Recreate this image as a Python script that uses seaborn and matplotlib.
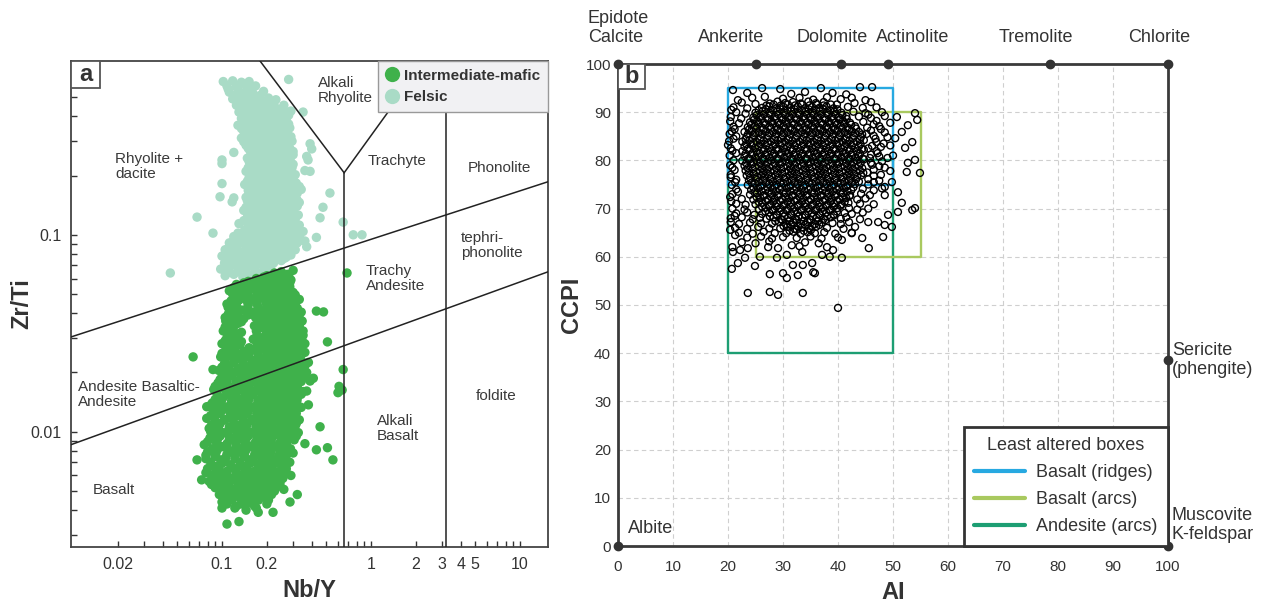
import matplotlib
matplotlib.use("Agg")
import numpy as np
import pandas as pd
import matplotlib.pyplot as plt
import seaborn as sns
from matplotlib.lines import Line2D
from matplotlib.patches import Rectangle
from matplotlib.ticker import FixedLocator, FixedFormatter, NullFormatter

# ---------------- data: panel a (Nb/Y, Zr/Ti) ----------------
felsic_points = [
    (0.102,0.60),(0.118,0.605),(0.135,0.595),(0.152,0.60),(0.28,0.615),
    (0.108,0.57),(0.125,0.565),(0.145,0.575),(0.168,0.57),
    (0.112,0.53),(0.13,0.535),(0.142,0.525),(0.16,0.53),(0.19,0.535),
    (0.118,0.49),(0.134,0.495),(0.15,0.485),(0.172,0.49),(0.205,0.495),(0.23,0.485),
    (0.125,0.455),(0.14,0.46),(0.158,0.45),(0.18,0.455),(0.2,0.46),(0.225,0.45),(0.26,0.455),
    (0.13,0.42),(0.148,0.425),(0.165,0.415),(0.185,0.42),(0.21,0.425),(0.235,0.415),(0.265,0.42),(0.29,0.425),
    (0.135,0.39),(0.152,0.385),(0.17,0.395),(0.19,0.39),(0.215,0.385),(0.24,0.395),(0.27,0.39),
    (0.128,0.36),(0.145,0.365),(0.162,0.355),(0.182,0.36),(0.205,0.365),(0.228,0.355),(0.255,0.36),(0.28,0.365),
    (0.14,0.335),(0.158,0.33),(0.176,0.34),(0.198,0.335),(0.22,0.33),(0.245,0.34),(0.27,0.335),
    (0.135,0.31),(0.15,0.315),(0.168,0.305),(0.188,0.31),(0.21,0.315),(0.235,0.305),(0.26,0.31),(0.29,0.315),
    (0.145,0.285),(0.162,0.29),(0.18,0.28),(0.2,0.285),(0.225,0.29),(0.25,0.28),(0.278,0.285),(0.39,0.29),
    (0.12,0.262),(0.155,0.265),(0.172,0.27),(0.192,0.26),(0.215,0.265),(0.24,0.27),(0.268,0.26),(0.3,0.265),
    (0.148,0.245),(0.165,0.25),(0.185,0.24),(0.205,0.245),(0.23,0.25),(0.255,0.24),(0.285,0.245),(0.37,0.25),
    (0.1,0.23),(0.158,0.228),(0.176,0.232),(0.196,0.224),(0.22,0.228),(0.245,0.232),(0.272,0.224),(0.3,0.228),
    (0.145,0.21),(0.165,0.214),(0.185,0.206),(0.205,0.21),(0.23,0.214),(0.26,0.206),(0.29,0.21),(0.36,0.212),
    (0.152,0.195),(0.17,0.198),(0.19,0.192),(0.212,0.195),(0.238,0.198),(0.265,0.192),(0.3,0.195),
    (0.1,0.182),(0.142,0.18),(0.16,0.183),(0.18,0.177),(0.2,0.18),(0.225,0.183),(0.25,0.177),(0.28,0.18),(0.315,0.183),
    (0.15,0.168),(0.168,0.171),(0.188,0.165),(0.21,0.168),(0.235,0.171),(0.262,0.165),(0.295,0.168),(0.34,0.17),
    (0.12,0.154),(0.145,0.155),(0.162,0.158),(0.18,0.152),(0.2,0.155),(0.222,0.158),(0.248,0.152),(0.275,0.155),(0.31,0.158),
    (0.152,0.143),(0.17,0.146),(0.19,0.14),(0.212,0.143),(0.238,0.146),(0.265,0.14),(0.3,0.143),(0.33,0.146),
    (0.14,0.133),(0.158,0.136),(0.176,0.13),(0.196,0.133),(0.22,0.136),(0.245,0.13),(0.272,0.133),(0.305,0.136),
    (0.148,0.123),(0.166,0.126),(0.185,0.12),(0.205,0.123),(0.23,0.126),(0.258,0.12),(0.288,0.123),(0.325,0.126),
    (0.13,0.114),(0.155,0.116),(0.172,0.112),(0.192,0.114),(0.215,0.116),(0.24,0.112),(0.268,0.114),(0.3,0.116),
    (0.142,0.106),(0.16,0.108),(0.18,0.104),(0.2,0.106),(0.225,0.108),(0.25,0.104),(0.28,0.106),(0.315,0.108),(0.35,0.104),
    (0.12,0.098),(0.135,0.1),(0.152,0.096),(0.17,0.098),(0.19,0.1),(0.212,0.096),(0.238,0.098),(0.265,0.1),(0.295,0.096),(0.33,0.098),
    (0.112,0.091),(0.128,0.093),(0.145,0.089),(0.162,0.091),(0.182,0.093),(0.205,0.089),(0.228,0.091),(0.255,0.093),(0.285,0.089),(0.32,0.091),(0.36,0.093),
    (0.105,0.084),(0.12,0.086),(0.138,0.082),(0.155,0.084),(0.175,0.086),(0.195,0.082),(0.22,0.084),(0.245,0.086),(0.275,0.082),(0.31,0.084),
    (0.1,0.078),(0.115,0.08),(0.13,0.076),(0.148,0.078),(0.166,0.08),(0.186,0.076),(0.21,0.078),(0.235,0.08),(0.262,0.076),(0.29,0.079),
    (0.104,0.072),(0.12,0.074),(0.136,0.07),(0.155,0.072),(0.175,0.074),(0.198,0.07),(0.222,0.072),(0.25,0.074),
    (0.098,0.067),(0.112,0.068),(0.128,0.065),(0.145,0.067),(0.165,0.068),(0.19,0.066),(0.212,0.068),
    (0.105,0.062),(0.12,0.063),(0.138,0.061),(0.158,0.062),
    (0.53,0.163),(0.476,0.138),(0.455,0.122),(0.40,0.273),(0.378,0.24),(0.39,0.21),(0.35,0.42),
    (0.65,0.116),(0.76,0.1),(0.87,0.1),(0.43,0.097),(0.37,0.087),
    (0.1,0.24),(0.097,0.156),(0.117,0.147),(0.068,0.123),(0.087,0.102),(0.045,0.064),
]
felsic_core_points = [
    (0.11,0.55),(0.128,0.552),(0.15,0.548),
    (0.122,0.51),(0.14,0.512),(0.16,0.508),(0.18,0.51),
    (0.13,0.47),(0.148,0.472),(0.168,0.468),(0.19,0.47),(0.215,0.472),
    (0.138,0.437),(0.156,0.44),(0.175,0.435),(0.195,0.437),(0.222,0.44),(0.25,0.435),
    (0.142,0.405),(0.16,0.407),(0.18,0.403),(0.2,0.405),(0.225,0.407),(0.252,0.403),(0.28,0.405),
    (0.138,0.375),(0.155,0.377),(0.175,0.373),(0.196,0.375),(0.218,0.377),(0.242,0.373),(0.268,0.375),
    (0.135,0.347),(0.152,0.349),(0.17,0.345),(0.19,0.347),(0.21,0.349),(0.235,0.345),(0.26,0.347),(0.285,0.349),
    (0.145,0.322),(0.162,0.324),(0.18,0.32),(0.2,0.322),(0.222,0.324),(0.248,0.32),(0.275,0.322),
    (0.14,0.297),(0.155,0.299),(0.172,0.295),(0.192,0.297),(0.215,0.299),(0.24,0.295),(0.265,0.297),(0.295,0.299),
    (0.15,0.275),(0.165,0.277),(0.183,0.273),(0.205,0.275),(0.228,0.277),(0.255,0.273),(0.285,0.275),
    (0.16,0.255),(0.178,0.257),(0.198,0.253),(0.22,0.255),(0.245,0.257),(0.272,0.253),(0.3,0.255),
    (0.152,0.236),(0.168,0.238),(0.188,0.234),(0.21,0.236),(0.235,0.238),(0.26,0.234),(0.288,0.236),
    (0.15,0.219),(0.17,0.221),(0.19,0.217),(0.215,0.219),(0.24,0.221),(0.265,0.217),(0.295,0.219),
    (0.158,0.202),(0.176,0.204),(0.198,0.2),(0.22,0.202),(0.248,0.204),(0.278,0.2),(0.31,0.202),
    (0.148,0.187),(0.165,0.189),(0.185,0.185),(0.206,0.187),(0.23,0.189),(0.258,0.185),(0.29,0.187),
    (0.155,0.174),(0.172,0.176),(0.192,0.172),(0.215,0.174),(0.24,0.176),(0.27,0.172),(0.3,0.174),(0.33,0.176),
    (0.152,0.161),(0.17,0.163),(0.19,0.159),(0.21,0.161),(0.235,0.163),(0.26,0.159),(0.29,0.161),(0.32,0.163),
    (0.148,0.149),(0.165,0.151),(0.185,0.147),(0.205,0.149),(0.228,0.151),(0.255,0.147),(0.285,0.149),(0.318,0.151),
    (0.145,0.138),(0.162,0.14),(0.182,0.136),(0.204,0.138),(0.228,0.14),(0.255,0.136),(0.285,0.138),(0.32,0.14),
    (0.155,0.128),(0.175,0.13),(0.195,0.126),(0.218,0.128),(0.243,0.13),(0.27,0.126),(0.3,0.128),
    (0.14,0.118),(0.158,0.12),(0.176,0.116),(0.198,0.118),(0.222,0.12),(0.248,0.116),(0.278,0.118),(0.31,0.12),
    (0.15,0.11),(0.17,0.112),(0.19,0.108),(0.212,0.11),(0.237,0.112),(0.265,0.108),(0.295,0.11),(0.33,0.112),
    (0.128,0.102),(0.145,0.104),(0.162,0.1),(0.18,0.102),(0.202,0.104),(0.225,0.1),(0.25,0.102),(0.28,0.104),(0.31,0.1),
    (0.12,0.094),(0.136,0.096),(0.153,0.092),(0.172,0.094),(0.193,0.096),(0.216,0.092),(0.242,0.094),(0.27,0.096),(0.3,0.092),(0.34,0.094),
    (0.112,0.087),(0.128,0.089),(0.146,0.085),(0.165,0.087),(0.185,0.089),(0.208,0.085),(0.232,0.087),(0.26,0.089),(0.29,0.085),
    (0.108,0.081),(0.124,0.083),(0.14,0.079),(0.158,0.081),(0.177,0.083),(0.198,0.079),(0.222,0.081),(0.25,0.083),(0.278,0.079),
    (0.108,0.075),(0.122,0.077),(0.14,0.073),(0.158,0.075),(0.178,0.077),(0.2,0.073),(0.225,0.075),(0.27,0.077),
    (0.105,0.0695),(0.12,0.071),(0.138,0.068),(0.155,0.0695),(0.178,0.071),(0.2,0.068),
    (0.11,0.0645),(0.128,0.066),(0.148,0.063),(0.168,0.0645),
]

mafic_points = [
    (0.225,0.064),(0.25,0.065),(0.275,0.063),(0.3,0.066),(0.69,0.064),
    (0.17,0.06),(0.19,0.061),(0.215,0.059),(0.24,0.06),(0.265,0.061),(0.29,0.059),
    (0.125,0.056),(0.14,0.057),(0.158,0.055),(0.18,0.056),(0.205,0.057),(0.23,0.055),(0.255,0.056),(0.285,0.057),
    (0.112,0.052),(0.128,0.053),(0.148,0.051),(0.17,0.052),(0.195,0.053),(0.22,0.051),(0.245,0.052),(0.27,0.053),(0.3,0.051),
    (0.12,0.048),(0.138,0.049),(0.16,0.047),(0.182,0.048),(0.208,0.049),(0.235,0.047),(0.26,0.048),(0.29,0.049),(0.33,0.047),
    (0.108,0.0445),(0.125,0.045),(0.15,0.044),(0.172,0.0445),(0.198,0.045),(0.225,0.044),(0.25,0.0445),(0.28,0.045),(0.31,0.044),
    (0.115,0.041),(0.135,0.0415),(0.162,0.0405),(0.188,0.041),(0.215,0.0415),(0.24,0.0405),(0.268,0.041),(0.3,0.0415),(0.34,0.0405),(0.43,0.041),(0.48,0.0406),
    (0.105,0.038),(0.122,0.0385),(0.14,0.0375),(0.168,0.038),(0.195,0.0385),(0.222,0.0375),(0.25,0.038),(0.28,0.0385),(0.32,0.0375),
    (0.11,0.035),(0.128,0.0355),(0.165,0.0345),(0.185,0.035),(0.208,0.0355),(0.235,0.0345),(0.262,0.035),(0.295,0.0355),(0.33,0.0345),
    (0.102,0.0325),(0.118,0.033),(0.135,0.032),(0.17,0.0325),(0.195,0.033),(0.22,0.032),(0.248,0.0325),(0.278,0.033),(0.31,0.032),(0.35,0.0325),
    (0.108,0.03),(0.125,0.0305),(0.162,0.0295),(0.185,0.03),(0.21,0.0305),(0.235,0.0295),(0.262,0.03),(0.295,0.0305),(0.335,0.0295),
    (0.1,0.028),(0.116,0.0284),(0.132,0.0276),(0.172,0.028),(0.198,0.0284),(0.222,0.0276),(0.25,0.028),(0.28,0.0284),(0.315,0.0276),(0.36,0.028),(0.51,0.0286),
    (0.106,0.026),(0.122,0.0264),(0.14,0.0256),(0.165,0.026),(0.188,0.0264),(0.212,0.0256),(0.238,0.026),(0.265,0.0264),(0.3,0.0256),(0.34,0.026),
    (0.064,0.024),(0.098,0.024),(0.112,0.0244),(0.128,0.0236),(0.148,0.024),(0.175,0.0244),(0.2,0.0236),(0.225,0.024),(0.252,0.0244),(0.285,0.0236),(0.32,0.024),
    (0.104,0.0222),(0.12,0.0225),(0.138,0.0219),(0.158,0.0222),(0.18,0.0225),(0.205,0.0219),(0.232,0.0222),(0.262,0.0225),(0.295,0.0219),(0.335,0.0222),(0.38,0.0225),
    (0.087,0.0207),(0.095,0.0205),(0.11,0.0208),(0.126,0.0202),(0.145,0.0205),(0.166,0.0208),(0.19,0.0202),(0.215,0.0205),(0.242,0.0208),(0.272,0.0202),(0.305,0.0205),(0.345,0.0208),(0.65,0.0207),
    (0.1,0.019),(0.116,0.0193),(0.133,0.0187),(0.153,0.019),(0.175,0.0193),(0.2,0.0187),(0.226,0.019),(0.255,0.0193),(0.285,0.0187),(0.32,0.019),(0.36,0.0193),(0.41,0.0187),
    (0.094,0.0177),(0.108,0.018),(0.124,0.0174),(0.142,0.0177),(0.163,0.018),(0.186,0.0174),(0.21,0.0177),(0.238,0.018),(0.268,0.0174),(0.3,0.0177),(0.34,0.018),(0.61,0.017),
    (0.088,0.0164),(0.1,0.0167),(0.115,0.0161),(0.132,0.0164),(0.152,0.0167),(0.174,0.0161),(0.198,0.0164),(0.224,0.0167),(0.252,0.0161),(0.284,0.0164),(0.32,0.0167),(0.37,0.0161),(0.64,0.0163),
    (0.094,0.0152),(0.108,0.0155),(0.124,0.0149),(0.142,0.0152),(0.162,0.0155),(0.185,0.0149),(0.21,0.0152),(0.238,0.0155),(0.268,0.0149),(0.3,0.0152),(0.34,0.0155),(0.6,0.0158),
    (0.086,0.014),(0.099,0.0143),(0.114,0.0137),(0.131,0.014),(0.15,0.0143),(0.172,0.0137),(0.196,0.014),(0.222,0.0143),(0.25,0.0137),(0.282,0.014),(0.318,0.0143),(0.38,0.0137),
    (0.079,0.0134),(0.092,0.013),(0.106,0.0133),(0.122,0.0127),(0.14,0.013),(0.16,0.0133),(0.183,0.0127),(0.208,0.013),(0.235,0.0133),(0.265,0.0127),(0.298,0.013),
    (0.084,0.0121),(0.097,0.0124),(0.112,0.0118),(0.129,0.0121),(0.148,0.0124),(0.17,0.0118),(0.194,0.0121),(0.22,0.0124),(0.248,0.0118),(0.28,0.0121),(0.315,0.0124),
    (0.09,0.0112),(0.104,0.0115),(0.12,0.0109),(0.138,0.0112),(0.158,0.0115),(0.18,0.0109),(0.205,0.0112),(0.232,0.0115),(0.262,0.0109),(0.295,0.0112),(0.33,0.0115),
    (0.082,0.0104),(0.095,0.0107),(0.11,0.0101),(0.127,0.0104),(0.146,0.0107),(0.167,0.0101),(0.19,0.0104),(0.216,0.0107),(0.244,0.0101),(0.275,0.0104),(0.31,0.0107),(0.455,0.0106),
    (0.087,0.0096),(0.101,0.0099),(0.117,0.0093),(0.135,0.0096),(0.155,0.0099),(0.177,0.0093),(0.201,0.0096),(0.228,0.0099),(0.258,0.0093),(0.29,0.0096),(0.325,0.0099),
    (0.08,0.0089),(0.093,0.0091),(0.108,0.0087),(0.125,0.0089),(0.144,0.0091),(0.165,0.0087),(0.188,0.0089),(0.214,0.0091),(0.242,0.0087),(0.272,0.0089),(0.305,0.0091),(0.36,0.0087),
    (0.086,0.0082),(0.1,0.0084),(0.116,0.008),(0.134,0.0082),(0.154,0.0084),(0.176,0.008),(0.2,0.0082),(0.227,0.0084),(0.256,0.008),(0.288,0.0082),(0.43,0.0081),(0.51,0.0083),
    (0.078,0.0076),(0.091,0.0078),(0.106,0.0074),(0.123,0.0076),(0.142,0.0078),(0.163,0.0074),(0.186,0.0076),(0.212,0.0078),(0.24,0.0074),(0.27,0.0076),(0.3,0.0078),
    (0.068,0.0072),(0.084,0.007),(0.098,0.0072),(0.114,0.0068),(0.132,0.007),(0.152,0.0072),(0.174,0.0068),(0.198,0.007),(0.225,0.0072),(0.254,0.0068),(0.285,0.007),(0.555,0.0072),
    (0.08,0.0065),(0.093,0.0067),(0.108,0.0063),(0.125,0.0065),(0.144,0.0067),(0.165,0.0063),(0.188,0.0065),(0.214,0.0067),(0.242,0.0063),(0.27,0.0065),
    (0.086,0.006),(0.1,0.0062),(0.116,0.0058),(0.134,0.006),(0.154,0.0062),(0.176,0.0058),(0.2,0.006),(0.227,0.0062),(0.256,0.0058),(0.29,0.006),
    (0.073,0.0057),(0.082,0.0056),(0.095,0.0057),(0.11,0.0055),(0.127,0.0056),(0.146,0.0057),(0.167,0.0055),(0.19,0.0056),(0.216,0.0057),(0.245,0.0055),
    (0.09,0.0052),(0.104,0.0053),(0.12,0.0051),(0.138,0.0052),(0.158,0.0053),(0.18,0.0051),(0.205,0.0052),(0.232,0.0053),(0.26,0.0051),
    (0.096,0.0048),(0.11,0.0049),(0.127,0.0047),(0.146,0.0048),(0.167,0.0049),(0.19,0.0047),(0.215,0.0048),(0.32,0.0048),
    (0.1,0.0044),(0.116,0.0045),(0.134,0.0043),(0.154,0.0044),(0.176,0.0045),(0.2,0.0043),(0.286,0.0044),
    (0.1,0.0041),(0.122,0.0041),(0.145,0.004),(0.17,0.0041),
    (0.175,0.0039),(0.22,0.0039),(0.13,0.0035),(0.108,0.0034),
]
mafic_core_points = [
    (0.2,0.062),(0.228,0.0625),(0.255,0.0615),(0.28,0.062),
    (0.15,0.058),(0.17,0.0585),(0.192,0.0575),(0.218,0.058),(0.243,0.0585),(0.27,0.0575),
    (0.12,0.054),(0.137,0.0545),(0.158,0.0535),(0.182,0.054),(0.207,0.0545),(0.232,0.0535),(0.258,0.054),(0.285,0.0545),
    (0.118,0.05),(0.13,0.0505),(0.15,0.0495),(0.172,0.05),(0.196,0.0505),(0.222,0.0495),(0.247,0.05),(0.275,0.0505),(0.31,0.0495),
    (0.115,0.0462),(0.13,0.0466),(0.148,0.0458),(0.17,0.0462),(0.195,0.0466),(0.22,0.0458),(0.247,0.0462),(0.275,0.0466),(0.31,0.0458),
    (0.11,0.0428),(0.125,0.0432),(0.148,0.0424),(0.175,0.0428),(0.2,0.0432),(0.228,0.0424),(0.254,0.0428),(0.284,0.0432),(0.32,0.0424),
    (0.11,0.0395),(0.128,0.0398),(0.15,0.0392),(0.178,0.0395),(0.205,0.0398),(0.23,0.0392),(0.258,0.0395),(0.29,0.0398),(0.33,0.0392),
    (0.106,0.0365),(0.118,0.0368),(0.135,0.0362),(0.175,0.0365),(0.198,0.0368),(0.222,0.0362),(0.248,0.0365),(0.278,0.0368),(0.31,0.0362),(0.345,0.0365),
    (0.105,0.034),(0.12,0.0343),(0.178,0.0337),(0.2,0.034),(0.222,0.0343),(0.25,0.0337),(0.28,0.034),(0.315,0.0343),
    (0.113,0.0312),(0.13,0.0315),(0.172,0.0309),(0.198,0.0312),(0.222,0.0315),(0.25,0.0309),(0.28,0.0312),(0.315,0.0315),(0.35,0.0309),
    (0.105,0.029),(0.118,0.0293),(0.135,0.0287),(0.175,0.029),(0.198,0.0293),(0.222,0.0287),(0.248,0.029),(0.278,0.0293),(0.31,0.0287),(0.345,0.029),
    (0.108,0.027),(0.124,0.0273),(0.152,0.0267),(0.178,0.027),(0.2,0.0273),(0.225,0.0267),(0.25,0.027),(0.282,0.0273),(0.32,0.0267),
    (0.1,0.025),(0.115,0.0253),(0.13,0.0247),(0.152,0.025),(0.175,0.0253),(0.2,0.0247),(0.225,0.025),(0.25,0.0253),(0.282,0.0247),(0.32,0.025),(0.36,0.0253),
    (0.105,0.0231),(0.12,0.0234),(0.138,0.0228),(0.16,0.0231),(0.187,0.0234),(0.212,0.0228),(0.238,0.0231),(0.268,0.0234),(0.302,0.0228),(0.34,0.0231),
    (0.1,0.0213),(0.112,0.0216),(0.128,0.021),(0.148,0.0213),(0.17,0.0216),(0.192,0.021),(0.218,0.0213),(0.247,0.0216),(0.278,0.021),(0.315,0.0213),(0.36,0.0216),
    (0.102,0.0197),(0.118,0.02),(0.135,0.0194),(0.155,0.0197),(0.178,0.02),(0.202,0.0194),(0.228,0.0197),(0.257,0.02),(0.29,0.0194),(0.325,0.0197),(0.37,0.02),
    (0.097,0.0184),(0.108,0.0187),(0.124,0.0181),(0.143,0.0184),(0.164,0.0187),(0.187,0.0181),(0.212,0.0184),(0.24,0.0187),(0.27,0.0181),(0.305,0.0184),(0.345,0.0187),(0.39,0.0181),
    (0.09,0.017),(0.101,0.0172),(0.116,0.0168),(0.133,0.017),(0.152,0.0172),(0.174,0.0168),(0.198,0.017),(0.224,0.0172),(0.252,0.0168),(0.285,0.017),(0.32,0.0172),
    (0.092,0.0158),(0.107,0.016),(0.123,0.0156),(0.142,0.0158),(0.163,0.016),(0.186,0.0156),(0.211,0.0158),(0.238,0.016),(0.268,0.0156),(0.3,0.0158),(0.35,0.016),
    (0.09,0.0146),(0.101,0.0148),(0.116,0.0144),(0.133,0.0146),(0.152,0.0148),(0.174,0.0144),(0.198,0.0146),(0.224,0.0148),(0.252,0.0144),(0.285,0.0146),(0.32,0.0148),
    (0.082,0.0135),(0.093,0.0137),(0.107,0.0133),(0.123,0.0135),(0.141,0.0137),(0.161,0.0133),(0.184,0.0135),(0.209,0.0137),(0.236,0.0133),(0.266,0.0135),(0.3,0.0137),(0.34,0.0133),
    (0.088,0.0126),(0.1,0.0128),(0.114,0.0124),(0.131,0.0126),(0.15,0.0128),(0.171,0.0124),(0.195,0.0126),(0.221,0.0128),(0.25,0.0124),(0.282,0.0126),
    (0.079,0.0117),(0.09,0.0119),(0.104,0.0115),(0.12,0.0117),(0.138,0.0119),(0.159,0.0115),(0.182,0.0117),(0.207,0.0119),(0.234,0.0115),(0.264,0.0117),(0.3,0.0119),
    (0.085,0.0108),(0.097,0.011),(0.112,0.0106),(0.129,0.0108),(0.148,0.011),(0.169,0.0106),(0.192,0.0108),(0.218,0.011),(0.247,0.0106),(0.278,0.0108),(0.315,0.011),
    (0.084,0.01),(0.094,0.0102),(0.108,0.0098),(0.125,0.01),(0.144,0.0102),(0.165,0.0098),(0.188,0.01),(0.213,0.0102),(0.24,0.0098),(0.27,0.01),(0.305,0.0102),
    (0.083,0.0093),(0.097,0.0095),(0.112,0.0091),(0.13,0.0093),(0.15,0.0095),(0.171,0.0091),(0.195,0.0093),(0.221,0.0095),(0.25,0.0091),(0.28,0.0093),(0.315,0.0095),
    (0.076,0.0086),(0.092,0.0088),(0.107,0.0084),(0.124,0.0086),(0.143,0.0088),(0.164,0.0084),(0.187,0.0086),(0.212,0.0088),(0.24,0.0084),(0.27,0.0086),
    (0.08,0.0079),(0.093,0.0081),(0.108,0.0077),(0.125,0.0079),(0.145,0.0081),(0.166,0.0077),(0.19,0.0079),(0.215,0.0081),(0.243,0.0077),(0.275,0.0079),
    (0.078,0.0073),(0.09,0.0075),(0.105,0.0071),(0.122,0.0073),(0.141,0.0075),(0.162,0.0071),(0.185,0.0073),(0.21,0.0075),(0.238,0.0071),(0.268,0.0073),
    (0.085,0.0067),(0.1,0.0069),(0.116,0.0066),(0.134,0.0067),(0.154,0.0069),(0.176,0.0066),(0.2,0.0067),(0.227,0.0069),(0.256,0.0066),
    (0.078,0.0062),(0.092,0.0063),(0.107,0.0061),(0.124,0.0062),(0.143,0.0063),(0.164,0.0061),(0.187,0.0062),(0.212,0.0063),(0.24,0.0061),(0.27,0.0062),
    (0.09,0.0058),(0.102,0.0059),(0.118,0.0057),(0.136,0.0058),(0.156,0.0059),(0.178,0.0057),(0.202,0.0058),(0.23,0.0059),
    (0.085,0.0054),(0.097,0.0055),(0.112,0.0053),(0.129,0.0054),(0.148,0.0055),(0.169,0.0053),(0.192,0.0054),(0.218,0.0055),(0.245,0.0053),
    (0.1,0.005),(0.115,0.0051),(0.132,0.0049),(0.152,0.005),(0.174,0.0051),(0.198,0.0049),(0.225,0.005),
    (0.105,0.0046),(0.12,0.0047),(0.14,0.0045),(0.16,0.0046),(0.183,0.0047),(0.205,0.0045),
    (0.108,0.0043),(0.125,0.0042),(0.145,0.0043),(0.165,0.0042),
]

# classification boundaries of panel a (Nb/Y, Zr/Ti end points)
boundary_lines = [
    ([0.66, 0.66], [0.0026, 0.2065]),
    ([0.66, 0.18], [0.2065, 0.763]),
    ([0.66, 2.3], [0.2065, 0.763]),
    ([3.2, 3.2], [0.0026, 0.763]),
    ([0.0097, 15.4], [0.0303, 0.186]),
    ([0.0097, 15.4], [0.0086, 0.0649]),
]
field_names = ["Alkali\nRhyolite", "Rhyolite +\ndacite", "Trachyte", "Phonolite",
               "tephri-\nphonolite", "Trachy\nAndesite", "Andesite Basaltic-\nAndesite",
               "foldite", "Alkali\nBasalt", "Basalt"]
field_pos = [(0.518, 0.940), (0.092, 0.782), (0.621, 0.794), (0.832, 0.780),
             (0.818, 0.621), (0.618, 0.553), (0.015, 0.313), (0.849, 0.311),
             (0.642, 0.243), (0.046, 0.117)]
x_major = [0.02, 0.1, 0.2, 1, 2, 3, 4, 5, 10]
x_major_labels = ["0.02", "0.1", "0.2", "1", "2", "3", "4", "5", "10"]
y_major = [0.01, 0.1]
y_major_labels = ["0.01", "0.1"]

# ---------------- data: panel b (AI, CCPI) ----------------
alteration_points = [
    (20.9,94.6),(26.2,95.0),(29.5,94.8),(36.9,95.0),(44.0,95.2),(46.2,95.2),
    (23.5,94.0),(31.5,93.8),(34.0,94.2),(39.0,94.0),(41.5,93.7),
    (21.8,92.5),(24.4,93.0),(26.7,93.2),(30.0,92.8),(33.0,93.0),(35.5,92.6),(38.0,93.1),(40.5,92.7),(42.5,93.0),(45.0,92.5),
    (27.6,91.8),(29.0,92.2),(30.4,91.9),(31.8,92.1),(33.2,91.8),(34.6,92.2),(36.0,91.9),(37.4,92.1),
    (22.5,92.0),(25.0,91.7),(39.8,91.6),(43.0,91.9),(46.0,92.1),
    (26.2,90.9),(27.5,91.2),(28.8,90.8),(30.1,91.1),(31.4,90.9),(32.7,91.2),(34.0,90.8),(35.3,91.1),(36.6,90.9),(37.9,91.2),(39.2,90.8),
    (21.0,91.0),(23.5,90.8),(41.8,91.1),(44.5,90.9),(47.0,91.0),(20.6,90.5),
    (25.0,89.9),(26.3,90.2),(27.6,89.8),(28.9,90.1),(30.2,89.9),(31.5,90.2),(32.8,89.8),(34.1,90.1),(35.4,89.9),(36.7,90.2),(38.0,89.8),(39.3,90.1),(40.6,89.9),
    (21.5,90.0),(23.2,89.7),(42.8,90.1),(45.0,89.8),(48.0,90.0),(45.5,89.5),
    (24.6,88.9),(25.9,89.2),(27.2,88.8),(28.5,89.1),(29.8,88.9),(31.1,89.2),(32.4,88.8),(33.7,89.1),(35.0,88.9),(36.3,89.2),(37.6,88.8),(38.9,89.1),(40.2,88.9),(41.5,89.2),
    (20.5,89.0),(22.4,88.7),(43.8,89.1),(46.0,88.8),(48.5,89.2),(50.7,89.0),(54.0,89.8),
    (24.0,87.9),(25.3,88.2),(26.6,87.8),(27.9,88.1),(29.2,87.9),(30.5,88.2),(31.8,87.8),(33.1,88.1),(34.4,87.9),(35.7,88.2),(37.0,87.8),(38.3,88.1),(39.6,87.9),(40.9,88.2),(42.2,87.8),
    (20.4,88.1),(22.0,87.7),(44.6,88.0),(47.0,88.2),(49.5,87.8),(54.4,88.4),(46.5,87.5),
    (23.6,86.9),(24.9,87.2),(26.2,86.8),(27.5,87.1),(28.8,86.9),(30.1,87.2),(31.4,86.8),(32.7,87.1),(34.0,86.9),(35.3,87.2),(36.6,86.8),(37.9,87.1),(39.2,86.9),(40.5,87.2),(41.8,86.8),(43.1,87.1),
    (21.0,87.0),(45.3,86.8),(47.5,87.1),(52.7,87.3),(21.2,86.5),(47.8,86.5),
    (23.0,85.9),(24.3,86.2),(25.6,85.8),(26.9,86.1),(28.2,85.9),(29.5,86.2),(30.8,85.8),(32.1,86.1),(33.4,85.9),(34.7,86.2),(36.0,85.8),(37.3,86.1),(38.6,85.9),(39.9,86.2),(41.2,85.8),(42.5,86.1),(43.8,85.9),
    (20.7,86.0),(46.0,86.2),(48.5,85.8),(51.6,85.9),(20.3,85.5),(45.2,85.5),
    (23.4,84.9),(24.7,85.2),(26.0,84.8),(27.3,85.1),(28.6,84.9),(29.9,85.2),(31.2,84.8),(32.5,85.1),(33.8,84.9),(35.1,85.2),(36.4,84.8),(37.7,85.1),(39.0,84.9),(40.3,85.2),(41.6,84.8),(42.9,85.1),(44.2,84.9),
    (21.5,85.0),(46.5,85.1),(49.0,84.8),(21.0,84.5),(46.8,84.5),
    (22.6,83.9),(23.9,84.2),(25.2,83.8),(26.5,84.1),(27.8,83.9),(29.1,84.2),(30.4,83.8),(31.7,84.1),(33.0,83.9),(34.3,84.2),(35.6,83.8),(36.9,84.1),(38.2,83.9),(39.5,84.2),(40.8,83.8),(42.1,84.1),(43.4,83.9),(44.7,84.2),
    (20.2,84.0),(47.0,83.8),(50.4,84.6),(53.5,83.8),(48.3,83.5),
    (23.0,82.9),(24.3,83.2),(25.6,82.8),(26.9,83.1),(28.2,82.9),(29.5,83.2),(30.8,82.8),(32.1,83.1),(33.4,82.9),(34.7,83.2),(36.0,82.8),(37.3,83.1),(38.6,82.9),(39.9,83.2),(41.2,82.8),(42.5,83.1),(43.8,82.9),
    (20.0,83.2),(46.2,83.0),(47.8,82.8),(49.5,83.1),(20.5,82.5),(45.5,82.5),
    (22.6,81.9),(23.9,82.2),(25.2,81.8),(26.5,82.1),(27.8,81.9),(29.1,82.2),(30.4,81.8),(31.7,82.1),(33.0,81.9),(34.3,82.2),(35.6,81.8),(36.9,82.1),(38.2,81.9),(39.5,82.2),(40.8,81.8),(42.1,82.1),(43.4,81.9),(44.7,82.2),
    (20.8,82.0),(47.0,81.9),(52.2,82.6),(21.5,81.5),(47.2,81.5),
    (23.0,80.9),(24.3,81.2),(25.6,80.8),(26.9,81.1),(28.2,80.9),(29.5,81.2),(30.8,80.8),(32.1,81.1),(33.4,80.9),(34.7,81.2),(36.0,80.8),(37.3,81.1),(38.6,80.9),(39.9,81.2),(41.2,80.8),(42.5,81.1),(43.8,80.9),
    (20.3,81.0),(46.0,81.2),(47.5,80.8),(50.0,81.0),(45.8,80.5),(49.0,80.5),
    (22.6,79.9),(23.9,80.2),(25.2,79.8),(26.5,80.1),(27.8,79.9),(29.1,80.2),(30.4,79.8),(31.7,80.1),(33.0,79.9),(34.3,80.2),(35.6,79.8),(36.9,80.1),(38.2,79.9),(39.5,80.2),(40.8,79.8),(42.1,80.1),(43.4,79.9),(44.7,80.2),
    (21.0,80.0),(48.0,79.8),(54.0,80.1),(46.0,79.5),
    (23.0,78.9),(24.3,79.2),(25.6,78.8),(26.9,79.1),(28.2,78.9),(29.5,79.2),(30.8,78.8),(32.1,79.1),(33.4,78.9),(34.7,79.2),(36.0,78.8),(37.3,79.1),(38.6,78.9),(39.9,79.2),(41.2,78.8),(42.5,79.1),(43.8,78.9),
    (20.4,79.0),(46.2,79.1),(47.5,78.8),(52.7,79.5),(20.8,78.5),(48.5,78.5),
    (23.2,77.9),(24.5,78.2),(25.8,77.8),(27.1,78.1),(28.4,77.9),(29.7,78.2),(31.0,77.8),(32.3,78.1),(33.6,77.9),(34.9,78.2),(36.2,77.8),(37.5,78.1),(38.8,77.9),(40.1,78.2),(41.4,77.8),(42.7,78.1),(44.0,77.9),
    (21.2,78.0),(46.5,78.1),(49.5,77.8),(45.3,77.5),(47.8,77.0),
    (23.4,76.9),(24.7,77.2),(26.0,76.8),(27.3,77.1),(28.6,76.9),(29.9,77.2),(31.2,76.8),(32.5,77.1),(33.8,76.9),(35.1,77.2),(36.4,76.8),(37.7,77.1),(39.0,76.9),(40.3,77.2),(41.6,76.8),(42.9,77.1),(44.2,76.9),
    (20.5,77.0),(46.5,76.8),(52.5,77.6),(54.9,77.4),(20.5,76.5),
    (23.8,75.9),(25.1,76.2),(26.4,75.8),(27.7,76.1),(29.0,75.9),(30.3,76.2),(31.6,75.8),(32.9,76.1),(34.2,75.9),(35.5,76.2),(36.8,75.8),(38.1,76.1),(39.4,75.9),(40.7,76.2),(42.0,75.8),(43.3,76.1),
    (21.5,76.0),(45.5,76.1),(47.5,75.8),(21.3,75.5),(46.5,75.5),
    (23.6,74.9),(24.9,75.2),(26.2,74.8),(27.5,75.1),(28.8,74.9),(30.1,75.2),(31.4,74.8),(32.7,75.1),(34.0,74.9),(35.3,75.2),(36.6,74.8),(37.9,75.1),(39.2,74.9),(40.5,75.2),(41.8,74.8),(43.1,75.1),
    (20.7,74.9),(45.5,75.0),(49.8,75.5),(48.5,74.5),
    (24.2,73.9),(25.5,74.2),(26.8,73.8),(28.1,74.1),(29.4,73.9),(30.7,74.2),(32.0,73.8),(33.3,74.1),(34.6,73.9),(35.9,74.2),(37.2,73.8),(38.5,74.1),(39.8,73.9),(41.1,74.2),(42.4,73.8),
    (21.5,74.0),(44.5,74.1),(46.5,73.8),(48.0,74.2),(21.8,73.5),
    (24.0,72.9),(25.3,73.2),(26.6,72.8),(27.9,73.1),(29.2,72.9),(30.5,73.2),(31.8,72.8),(33.1,73.1),(34.4,72.9),(35.7,73.2),(37.0,72.8),(38.3,73.1),(39.6,72.9),(40.9,73.2),(42.2,72.8),
    (20.8,73.0),(44.2,73.1),(45.8,72.8),(50.9,73.4),
    (24.6,71.9),(25.9,72.2),(27.2,71.8),(28.5,72.1),(29.8,71.9),(31.1,72.2),(32.4,71.8),(33.7,72.1),(35.0,71.9),(36.3,72.2),(37.6,71.8),(38.9,72.1),(40.2,71.9),(41.5,72.2),
    (20.4,72.4),(22.5,72.0),(43.5,71.9),(45.0,72.1),(48.5,72.8),(20.6,71.5),
    (25.0,70.9),(26.3,71.2),(27.6,70.8),(28.9,71.1),(30.2,70.9),(31.5,71.2),(32.8,70.8),(34.1,71.1),(35.4,70.9),(36.7,71.2),(38.0,70.8),(39.3,71.1),(40.6,70.9),(41.9,71.2),
    (21.5,71.0),(23.2,70.8),(44.0,71.0),(46.5,70.9),(51.6,71.2),
    (25.6,69.9),(26.9,70.2),(28.2,69.8),(29.5,70.1),(30.8,69.9),(32.1,70.2),(33.4,69.8),(34.7,70.1),(36.0,69.9),(37.3,70.2),(38.6,69.8),(39.9,70.1),
    (20.8,70.0),(23.0,69.8),(42.0,70.1),(43.5,69.8),(45.5,70.0),(54.0,70.1),(53.5,69.7),
    (26.2,68.9),(27.5,69.2),(28.8,68.8),(30.1,69.1),(31.4,68.9),(32.7,69.2),(34.0,68.8),(35.3,69.1),(36.6,68.9),(37.9,69.2),(39.2,68.8),
    (21.5,69.0),(23.5,69.2),(24.8,68.7),(41.2,69.1),(42.5,68.9),(44.5,69.2),(50.9,69.3),(21.2,68.5),
    (27.0,67.9),(28.3,68.2),(29.6,67.8),(30.9,68.1),(32.2,67.9),(33.5,68.2),(34.8,67.8),(36.1,68.1),(37.4,67.9),(38.7,68.2),
    (20.5,68.0),(22.5,68.2),(24.5,67.8),(25.8,68.1),(40.5,67.9),(41.5,68.2),(44.0,67.8),(49.1,68.7),
    (28.0,66.9),(29.3,67.2),(30.6,66.8),(31.9,67.1),(33.2,66.9),(34.5,67.2),(35.8,66.8),(37.1,67.1),
    (20.5,67.2),(22.0,66.8),(24.0,67.1),(26.0,66.9),(39.0,67.0),(40.5,66.8),(42.0,67.2),(45.5,67.2),(47.3,67.2),
    (29.5,65.9),(30.8,66.2),(32.1,65.8),(33.4,66.1),(34.7,65.9),(36.0,66.2),
    (21.3,66.0),(23.5,65.8),(25.5,66.2),(27.5,65.9),(38.0,66.0),(41.0,65.8),(43.1,66.2),(48.5,66.6),(49.8,66.2),
    (30.6,64.9),(31.9,65.2),(33.2,64.8),(34.5,65.1),(35.8,64.9),
    (20.4,65.6),(22.0,65.0),(24.5,64.8),(26.5,65.2),(28.5,64.9),(37.5,65.1),(39.5,64.8),(42.5,65.0),
    (21.3,64.5),(23.5,64.0),(26.0,64.2),(28.0,63.8),(30.0,64.1),(32.5,63.9),(35.0,64.2),(37.0,63.8),(40.0,64.0),(44.4,63.9),(48.2,64.1),
    (22.5,63.0),(25.0,62.8),(27.5,63.2),(31.6,62.4),(34.0,63.0),(36.5,62.8),(40.7,63.5),(42.5,64.9),
    (20.8,62.0),(23.6,61.8),(27.3,62.0),(29.1,61.8),(33.0,62.2),(38.0,62.0),(45.6,61.8),
    (20.9,61.0),(22.2,61.4),(33.5,61.0),(39.1,61.4),
    (23.1,59.8),(25.8,60.0),(28.9,59.8),(30.7,60.4),(37.1,60.4),(38.5,60.0),(40.7,59.8),
    (21.8,58.7),(24.9,58.1),(31.8,58.3),(33.6,58.3),(35.3,58.7),(20.7,57.5),(30.0,56.6),(35.5,56.8),
    (27.6,56.4),(32.7,56.2),(35.8,56.6),(30.7,55.6),
    (23.6,52.5),(27.6,52.7),(29.1,52.1),(33.6,52.5),(40.0,49.4),
]
alteration_core_points = [
    (27.0,91.4),(28.3,91.6),(29.6,91.4),(30.9,91.6),(32.2,91.4),(33.5,91.6),(34.8,91.4),(36.1,91.6),(37.4,91.4),(38.7,91.6),
    (25.6,90.4),(26.9,90.6),(28.2,90.4),(29.5,90.6),(30.8,90.4),(32.1,90.6),(33.4,90.4),(34.7,90.6),(36.0,90.4),(37.3,90.6),(38.6,90.4),(39.9,90.6),
    (25.2,89.4),(26.5,89.6),(27.8,89.4),(29.1,89.6),(30.4,89.4),(31.7,89.6),(33.0,89.4),(34.3,89.6),(35.6,89.4),(36.9,89.6),(38.2,89.4),(39.5,89.6),(40.8,89.4),
    (24.7,88.4),(26.0,88.6),(27.3,88.4),(28.6,88.6),(29.9,88.4),(31.2,88.6),(32.5,88.4),(33.8,88.6),(35.1,88.4),(36.4,88.6),(37.7,88.4),(39.0,88.6),(40.3,88.4),(41.6,88.6),
    (24.2,87.4),(25.5,87.6),(26.8,87.4),(28.1,87.6),(29.4,87.4),(30.7,87.6),(32.0,87.4),(33.3,87.6),(34.6,87.4),(35.9,87.6),(37.2,87.4),(38.5,87.6),(39.8,87.4),(41.1,87.6),(42.4,87.4),
    (23.8,86.4),(25.1,86.6),(26.4,86.4),(27.7,86.6),(29.0,86.4),(30.3,86.6),(31.6,86.4),(32.9,86.6),(34.2,86.4),(35.5,86.6),(36.8,86.4),(38.1,86.6),(39.4,86.4),(40.7,86.6),(42.0,86.4),(43.3,86.6),
    (23.6,85.4),(24.9,85.6),(26.2,85.4),(27.5,85.6),(28.8,85.4),(30.1,85.6),(31.4,85.4),(32.7,85.6),(34.0,85.4),(35.3,85.6),(36.6,85.4),(37.9,85.6),(39.2,85.4),(40.5,85.6),(41.8,85.4),(43.1,85.6),(44.4,85.4),
    (23.2,84.4),(24.5,84.6),(25.8,84.4),(27.1,84.6),(28.4,84.4),(29.7,84.6),(31.0,84.4),(32.3,84.6),(33.6,84.4),(34.9,84.6),(36.2,84.4),(37.5,84.6),(38.8,84.4),(40.1,84.6),(41.4,84.4),(42.7,84.6),(44.0,84.4),
    (23.3,83.4),(24.6,83.6),(25.9,83.4),(27.2,83.6),(28.5,83.4),(29.8,83.6),(31.1,83.4),(32.4,83.6),(33.7,83.4),(35.0,83.6),(36.3,83.4),(37.6,83.6),(38.9,83.4),(40.2,83.6),(41.5,83.4),(42.8,83.6),(44.1,83.4),
    (23.6,82.4),(24.9,82.6),(26.2,82.4),(27.5,82.6),(28.8,82.4),(30.1,82.6),(31.4,82.4),(32.7,82.6),(34.0,82.4),(35.3,82.6),(36.6,82.4),(37.9,82.6),(39.2,82.4),(40.5,82.6),(41.8,82.4),(43.1,82.6),(44.4,82.4),
    (23.2,81.4),(24.5,81.6),(25.8,81.4),(27.1,81.6),(28.4,81.4),(29.7,81.6),(31.0,81.4),(32.3,81.6),(33.6,81.4),(34.9,81.6),(36.2,81.4),(37.5,81.6),(38.8,81.4),(40.1,81.6),(41.4,81.4),(42.7,81.6),(44.0,81.4),
    (23.7,80.4),(25.0,80.6),(26.3,80.4),(27.6,80.6),(28.9,80.4),(30.2,80.6),(31.5,80.4),(32.8,80.6),(34.1,80.4),(35.4,80.6),(36.7,80.4),(38.0,80.6),(39.3,80.4),(40.6,80.6),(41.9,80.4),(43.2,80.6),(44.5,80.4),
    (23.3,79.4),(24.6,79.6),(25.9,79.4),(27.2,79.6),(28.5,79.4),(29.8,79.6),(31.1,79.4),(32.4,79.6),(33.7,79.4),(35.0,79.6),(36.3,79.4),(37.6,79.6),(38.9,79.4),(40.2,79.6),(41.5,79.4),(42.8,79.6),(44.1,79.4),
    (23.6,78.4),(24.9,78.6),(26.2,78.4),(27.5,78.6),(28.8,78.4),(30.1,78.6),(31.4,78.4),(32.7,78.6),(34.0,78.4),(35.3,78.6),(36.6,78.4),(37.9,78.6),(39.2,78.4),(40.5,78.6),(41.8,78.4),(43.1,78.6),(44.4,78.4),
    (23.8,77.4),(25.1,77.6),(26.4,77.4),(27.7,77.6),(29.0,77.4),(30.3,77.6),(31.6,77.4),(32.9,77.6),(34.2,77.4),(35.5,77.6),(36.8,77.4),(38.1,77.6),(39.4,77.4),(40.7,77.6),(42.0,77.4),(43.3,77.6),(44.6,77.4),
    (24.0,76.4),(25.3,76.6),(26.6,76.4),(27.9,76.6),(29.2,76.4),(30.5,76.6),(31.8,76.4),(33.1,76.6),(34.4,76.4),(35.7,76.6),(37.0,76.4),(38.3,76.6),(39.6,76.4),(40.9,76.6),(42.2,76.4),(43.5,76.6),
    (24.3,75.4),(25.6,75.6),(26.9,75.4),(28.2,75.6),(29.5,75.4),(30.8,75.6),(32.1,75.4),(33.4,75.6),(34.7,75.4),(36.0,75.6),(37.3,75.4),(38.6,75.6),(39.9,75.4),(41.2,75.6),(42.5,75.4),(43.8,75.6),
    (24.6,74.4),(25.9,74.6),(27.2,74.4),(28.5,74.6),(29.8,74.4),(31.1,74.6),(32.4,74.4),(33.7,74.6),(35.0,74.4),(36.3,74.6),(37.6,74.4),(38.9,74.6),(40.2,74.4),(41.5,74.6),(42.8,74.4),
    (24.8,73.4),(26.1,73.6),(27.4,73.4),(28.7,73.6),(30.0,73.4),(31.3,73.6),(32.6,73.4),(33.9,73.6),(35.2,73.4),(36.5,73.6),(37.8,73.4),(39.1,73.6),(40.4,73.4),(41.7,73.6),
    (25.2,72.4),(26.5,72.6),(27.8,72.4),(29.1,72.6),(30.4,72.4),(31.7,72.6),(33.0,72.4),(34.3,72.6),(35.6,72.4),(36.9,72.6),(38.2,72.4),(39.5,72.6),(40.8,72.4),(42.1,72.6),
    (25.6,71.4),(26.9,71.6),(28.2,71.4),(29.5,71.6),(30.8,71.4),(32.1,71.6),(33.4,71.4),(34.7,71.6),(36.0,71.4),(37.3,71.6),(38.6,71.4),(39.9,71.6),(41.2,71.4),
    (26.2,70.4),(27.5,70.6),(28.8,70.4),(30.1,70.6),(31.4,70.4),(32.7,70.6),(34.0,70.4),(35.3,70.6),(36.6,70.4),(37.9,70.6),(39.2,70.4),(40.5,70.6),
    (26.8,69.4),(28.1,69.6),(29.4,69.4),(30.7,69.6),(32.0,69.4),(33.3,69.6),(34.6,69.4),(35.9,69.6),(37.2,69.4),(38.5,69.6),(39.8,69.4),
    (27.6,68.4),(28.9,68.6),(30.2,68.4),(31.5,68.6),(32.8,68.4),(34.1,68.6),(35.4,68.4),(36.7,68.6),(38.0,68.4),(39.3,68.6),
    (28.6,67.4),(29.9,67.6),(31.2,67.4),(32.5,67.6),(33.8,67.4),(35.1,67.6),(36.4,67.4),(37.7,67.6),
    (30.1,66.4),(31.4,66.6),(32.7,66.4),(34.0,66.6),(35.3,66.4),(36.6,66.6),
    (31.2,65.4),(32.5,65.6),(33.8,65.4),(35.1,65.6),
]

box_names = ["Basalt (ridges)", "Basalt (arcs)", "Andesite (arcs)"]
box_ai_min = [20, 25, 20]
box_ai_max = [50, 55, 50]
box_ccpi_min = [75, 60, 40]
box_ccpi_max = [95, 90, 80]
box_colors = ["#27a9e1", "#a9c95f", "#1d9e73"]

top_minerals = ["Epidote\nCalcite", "Ankerite", "Dolomite", "Actinolite", "Tremolite", "Chlorite"]
top_mineral_ai = [0, 25, 40.5, 49, 78.5, 100]
top_label_ai = [-5.5, 20.5, 38.9, 53.5, 76.0, 98.4]
side_minerals = ["Sericite\n(phengite)", "Muscovite\nK-feldspar"]
side_mineral_ccpi = [38.5, 0]
side_label_ccpi = [38.6, 4.4]

# ---------------- style ----------------
sns.set_theme(style="white")
plt.rcParams["font.family"] = ["Liberation Sans", "DejaVu Sans"]
txt = "#333333"

fig = plt.figure(figsize=(12.66, 6.03), dpi=100)
W, H = 1266, 603
ax1 = fig.add_axes([71 / W, 1 - 547 / H, (548 - 71) / W, (547 - 61) / H])
ax2 = fig.add_axes([618 / W, 1 - 546 / H, (1168 - 618) / W, (546 - 64) / H])

# ---------------- panel a ----------------
fel = felsic_points + felsic_core_points
maf = mafic_points + mafic_core_points
df = pd.DataFrame(
    {"Nb/Y": [p[0] for p in fel] + [p[0] for p in maf],
     "Zr/Ti": [p[1] for p in fel] + [p[1] for p in maf],
     "Group": ["Felsic"] * len(fel) + ["Intermediate-mafic"] * len(maf)})
pal = {"Felsic": "#a9dbc6", "Intermediate-mafic": "#3fb14b"}
sns.scatterplot(data=df, x="Nb/Y", y="Zr/Ti", hue="Group", palette=pal, s=46,
                linewidth=0, ax=ax1, legend=False, zorder=2)
ax1.set_xscale("log")
ax1.set_yscale("log")
ax1.set_xlim(0.0097, 15.4)
ax1.set_ylim(0.0026, 0.763)
for xs, ys in boundary_lines:
    ax1.plot(xs, ys, color="#222222", lw=1.1, zorder=3)
for name, (fx, fy) in zip(field_names, field_pos):
    ax1.text(fx, fy, name, transform=ax1.transAxes, ha="left", va="center",
             fontsize=11, color="#3a3a3a", linespacing=1.1, zorder=4)

xminor = [v * d for d in [0.01, 0.1, 1] for v in range(2, 10)] + [10]
xminor = [v for v in xminor if v not in x_major]
ax1.xaxis.set_major_locator(FixedLocator(x_major))
ax1.xaxis.set_major_formatter(FixedFormatter(x_major_labels))
ax1.xaxis.set_minor_locator(FixedLocator(xminor))
ax1.xaxis.set_minor_formatter(NullFormatter())
yminor = [v * d for d in [0.001, 0.01, 0.1] for v in range(2, 10)]
ax1.yaxis.set_major_locator(FixedLocator(y_major))
ax1.yaxis.set_major_formatter(FixedFormatter(y_major_labels))
ax1.yaxis.set_minor_locator(FixedLocator(yminor))
ax1.yaxis.set_minor_formatter(NullFormatter())
ax1.tick_params(which="both", direction="in", length=4.5, width=1.0, color="#333333",
                labelsize=11.5, labelcolor=txt, pad=7)
ax1.tick_params(axis="x", which="both", bottom=True, top=False)
ax1.tick_params(axis="y", which="both", left=True, right=False)
for sp in ax1.spines.values():
    sp.set_color("#444444")
    sp.set_linewidth(1.3)
ax1.set_xlabel("Nb/Y", fontsize=17, fontweight="bold", color=txt, labelpad=5)
ax1.set_ylabel("Zr/Ti", fontsize=17, fontweight="bold", color=txt, labelpad=-2)

ax1.add_patch(Rectangle((0, 1 - 27 / 486), 29 / 477, 27 / 486, transform=ax1.transAxes,
                        fc="white", ec="#555555", lw=1.3, zorder=5))
ax1.text(14.5 / 477, 1 - 13.5 / 486, "a", transform=ax1.transAxes, ha="center", va="center",
         fontsize=17, fontweight="bold", color=txt, zorder=6)

leg_handles = [Line2D([], [], marker="o", ls="none", ms=11, mec="none", mfc=pal["Intermediate-mafic"]),
               Line2D([], [], marker="o", ls="none", ms=11, mec="none", mfc=pal["Felsic"])]
leg1 = ax1.legend(leg_handles, ["Intermediate-mafic", "Felsic"], loc="upper right",
                  bbox_to_anchor=(1, 1), borderaxespad=0, frameon=True, fancybox=False,
                  prop={"weight": "bold", "size": 11}, handlelength=0.9, handletextpad=0.35,
                  borderpad=0.5, labelspacing=0.5, facecolor="#f1f1f3", edgecolor="#999999",
                  framealpha=1)
leg1.get_frame().set_linewidth(1.0)
for t in leg1.get_texts():
    t.set_color(txt)
leg1.set_zorder(7)

# ---------------- panel b ----------------
ax2.set_xlim(0, 100)
ax2.set_ylim(0, 100)
ax2.set_xticks(range(0, 101, 10))
ax2.set_yticks(range(0, 101, 10))
ax2.grid(True, color="#cfcfcf", lw=0.8, ls=(0, (4, 3)), zorder=0)
ax2.set_axisbelow(True)
for i in [2, 1, 0]:
    x0, x1 = box_ai_min[i], box_ai_max[i]
    y0, y1 = box_ccpi_min[i], box_ccpi_max[i]
    ax2.plot([x0, x1, x1, x0, x0], [y0, y0, y1, y1, y0], color=box_colors[i], lw=1.7, zorder=2)

alt = alteration_points + alteration_core_points
ai_vals = [p[0] for p in alt]
ccpi_vals = [p[1] for p in alt]
sns.scatterplot(x=ai_vals, y=ccpi_vals, ax=ax2, s=25, marker="o", zorder=3, legend=False)
coll = ax2.collections[-1]
coll.set_facecolor("none")
coll.set_edgecolor("black")
coll.set_linewidth(1.0)

for sp in ax2.spines.values():
    sp.set_color("#3a3a3a")
    sp.set_linewidth(2.0)
ax2.tick_params(length=0, labelsize=11, labelcolor=txt)
ax2.tick_params(axis="x", pad=10)
ax2.tick_params(axis="y", pad=5)
ax2.set_xlabel("AI", fontsize=17, fontweight="bold", color=txt, labelpad=5)
ax2.set_ylabel("CCPI", fontsize=17, fontweight="bold", color=txt, labelpad=2)

# mineral end-members on the frame
ax2.scatter(top_mineral_ai, [100] * len(top_mineral_ai), s=36, color="#333333", zorder=6, clip_on=False)
ax2.scatter([100] * len(side_mineral_ccpi), side_mineral_ccpi, s=36, color="#333333", zorder=6, clip_on=False)
ax2.scatter([0], [0], s=36, color="#333333", zorder=6, clip_on=False)
for name, lx in zip(top_minerals, top_label_ai):
    ha = "left" if "\n" in name else "center"
    ly = 107.5 if "\n" in name else 105.4
    ax2.text(lx, ly, name, ha=ha, va="center", fontsize=13, color=txt, linespacing=1.15, clip_on=False)
for name, ly in zip(side_minerals, side_label_ccpi):
    ax2.text(100.7, ly, name, ha="left", va="center", fontsize=13, color=txt, linespacing=1.15, clip_on=False)
ax2.text(1.8, 3.7, "Albite", ha="left", va="center", fontsize=13, color=txt)

ax2.add_patch(Rectangle((0, 1 - 25 / 482), 27 / 550, 25 / 482, transform=ax2.transAxes,
                        fc="white", ec="#555555", lw=1.3, zorder=5))
ax2.text(13.5 / 550, 1 - 12.5 / 482, "b", transform=ax2.transAxes, ha="center", va="center",
         fontsize=17, fontweight="bold", color=txt, zorder=6)

box_handles = [Line2D([], [], color=c, lw=3) for c in box_colors]
leg2 = ax2.legend(box_handles, box_names, title="Least altered boxes", loc="lower right",
                  bbox_to_anchor=(1, 0), borderaxespad=0, frameon=True, fancybox=False,
                  fontsize=13, title_fontsize=13, handlelength=2.8, handletextpad=0.6,
                  borderpad=0.6, labelspacing=0.55, edgecolor="#333333", facecolor="white",
                  framealpha=1)
leg2.get_frame().set_linewidth(2.0)
leg2.get_title().set_color(txt)
for t in leg2.get_texts():
    t.set_color(txt)
leg2.set_zorder(7)

fig.savefig("out.png", dpi=100)
